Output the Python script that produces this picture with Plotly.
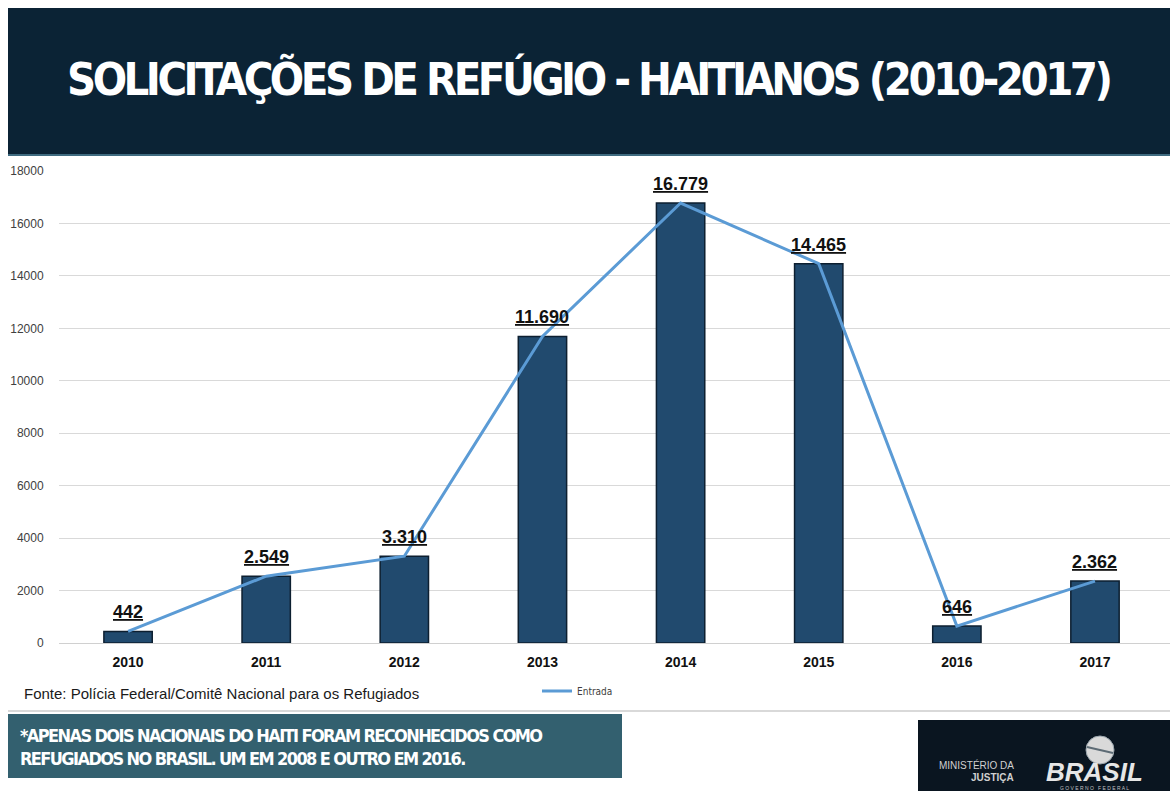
import plotly.graph_objects as go

# Refugee applications by Haitians in Brazil, 2010-2017
anos = ["2010", "2011", "2012", "2013", "2014", "2015", "2016", "2017"]
solicitacoes = [442, 2549, 3310, 11690, 16779, 14465, 646, 2362]
y_ticks = [0, 2000, 4000, 6000, 8000, 10000, 12000, 14000, 16000, 18000]

W, H = 1170, 791


def px_y(y):
    """Convert a pixel row (from top) to paper coordinates."""
    return 1 - y / H


def px_x(x):
    return x / W


def fmt_br(v):
    return f"{v:,}".replace(",", ".")


def tight(text, spacing):
    """Bold text with reduced letter spacing for the poster-style headings."""
    return f'<span style="letter-spacing:{spacing}px"><b>{text}</b></span>'


NAVY = "#0b2335"
BAR = "#214a6e"
LINE = "#5b9bd5"
TEAL = "#33606f"
CONDENSED = "Liberation Sans Narrow, DejaVu Sans Condensed, Arial Narrow, sans-serif"
ARIAL = "Arial, Liberation Sans, sans-serif"

fig = go.Figure()

fig.add_trace(go.Bar(
    x=anos,
    y=solicitacoes,
    width=0.35,
    marker=dict(color=BAR, line=dict(color="#0d1f30", width=1.5)),
    showlegend=False,
    hoverinfo="skip",
))

fig.add_trace(go.Scatter(
    x=anos,
    y=solicitacoes,
    mode="lines",
    name="Entrada",
    line=dict(color=LINE, width=3),
    showlegend=True,
))

shapes = [
    # title banner
    dict(type="rect", xref="paper", yref="paper", x0=px_x(8), x1=1,
         y0=px_y(155), y1=px_y(8), fillcolor=NAVY, line=dict(width=0), layer="below"),
    dict(type="line", xref="paper", yref="paper", x0=px_x(8), x1=1,
         y0=px_y(155), y1=px_y(155), line=dict(color="#3f6b80", width=2)),
    # separator above the footer
    dict(type="line", xref="paper", yref="paper", x0=px_x(8), x1=1,
         y0=px_y(711), y1=px_y(711), line=dict(color="#d9d9d9", width=2)),
    # footnote box
    dict(type="rect", xref="paper", yref="paper", x0=px_x(8), x1=px_x(622),
         y0=px_y(778), y1=px_y(714), fillcolor=TEAL, line=dict(width=0)),
    # ministry logo box
    dict(type="rect", xref="paper", yref="paper", x0=px_x(918), x1=1,
         y0=0, y1=px_y(720), fillcolor="#0a1520", line=dict(width=0)),
    # globe above the BRASIL wordmark
    dict(type="circle", xref="paper", yref="paper", x0=px_x(1086), x1=px_x(1114),
         y0=px_y(764), y1=px_y(736), fillcolor="#d9d9d9", line=dict(color="#9aa5ad", width=1)),
    dict(type="line", xref="paper", yref="paper", x0=px_x(1087), x1=px_x(1113),
         y0=px_y(747), y1=px_y(753), line=dict(color="#5d6b75", width=2)),
]

# value labels above each bar (category index positions on the x axis)
value_labels = [
    dict(text=fmt_br(v), x=i, y=v, xref="x", yref="y",
         xanchor="center", yanchor="bottom", yshift=7, showarrow=False,
         font=dict(family=ARIAL, size=18, color="#111111", weight="bold",
                   lineposition="under"))
    for i, v in enumerate(solicitacoes)
]

annotations = value_labels + [
    dict(text=tight("SOLICITAÇÕES DE REFÚGIO - HAITIANOS (2010-2017)", -3.5),
         xref="paper", yref="paper", x=px_x(589), y=px_y(80),
         xanchor="center", yanchor="middle", showarrow=False,
         font=dict(family=CONDENSED, size=45, color="white")),
    dict(text="Fonte: Polícia Federal/Comitê Nacional para os Refugiados",
         xref="paper", yref="paper", x=px_x(22), y=px_y(693),
         xanchor="left", yanchor="middle", showarrow=False,
         font=dict(family=ARIAL, size=15, color="#1a1a1a")),
    dict(text=tight("*APENAS DOIS NACIONAIS DO HAITI FORAM RECONHECIDOS COMO", -1.6)
         + "<br>" + tight("REFUGIADOS NO BRASIL. UM EM 2008 E OUTRO EM 2016.", -1.6),
         xref="paper", yref="paper", x=px_x(18), y=px_y(747),
         xanchor="left", yanchor="middle", align="left", showarrow=False,
         font=dict(family=CONDENSED, size=18, color="white")),
    dict(text="MINISTÉRIO DA", xref="paper", yref="paper",
         x=px_x(1016), y=px_y(765), xanchor="right", yanchor="middle", showarrow=False,
         font=dict(family=ARIAL, size=10, color="#d0d0d0")),
    dict(text="<b>JUSTIÇA</b>", xref="paper", yref="paper",
         x=px_x(1016), y=px_y(777), xanchor="right", yanchor="middle", showarrow=False,
         font=dict(family=ARIAL, size=10, color="#d0d0d0")),
    dict(text="<b><i>BRASIL</i></b>", xref="paper", yref="paper",
         x=px_x(1094), y=px_y(772), xanchor="center", yanchor="middle", showarrow=False,
         font=dict(family="Arial Black, Liberation Sans, sans-serif", size=26, color="#e6e6e6")),
    dict(text="G O V E R N O   F E D E R A L", xref="paper", yref="paper",
         x=px_x(1094), y=px_y(788), xanchor="center", yanchor="middle", showarrow=False,
         font=dict(family=ARIAL, size=5, color="#c0c0c0")),
]

fig.update_layout(
    width=W,
    height=H,
    margin=dict(l=0, r=0, t=0, b=0, autoexpand=False),
    paper_bgcolor="white",
    plot_bgcolor="white",
    shapes=shapes,
    annotations=annotations,
    legend=dict(
        orientation="h",
        x=px_x(537), y=px_y(691), xanchor="left", yanchor="middle",
        font=dict(family=CONDENSED, size=10, color="#404040"),
        bgcolor="rgba(0,0,0,0)",
        itemwidth=30,
    ),
    xaxis=dict(
        domain=[px_x(59), 1],
        range=[-0.5, 7.543],
        type="category",
        automargin=False,
        showgrid=False,
        showline=False,
        ticks="outside",
        ticklen=6,
        tickcolor="rgba(0,0,0,0)",
        tickfont=dict(family=ARIAL, size=14, color="#111111", weight="bold"),
    ),
    yaxis=dict(
        domain=[px_y(643), px_y(171)],
        range=[0, 18000],
        tickvals=y_ticks,
        ticktext=[str(v) for v in y_ticks],
        automargin=False,
        showgrid=True,
        gridcolor="#d9d9d9",
        gridwidth=1,
        zeroline=True,
        zerolinecolor="#d0d0d0",
        zerolinewidth=1,
        ticks="outside",
        ticklen=12,
        tickcolor="rgba(0,0,0,0)",
        tickfont=dict(family=ARIAL, size=12, color="#404040"),
    ),
)

fig.write_html("out.html")
